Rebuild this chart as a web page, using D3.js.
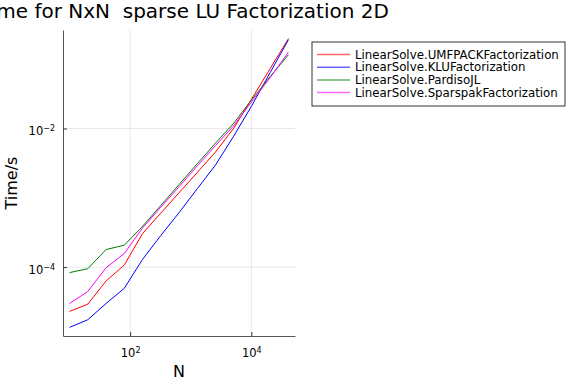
<!DOCTYPE html>
<html lang="en">
<head>
    <meta charset="UTF-8">
    <script src="https://d3js.org/d3.v7.min.js"></script>
    <style>
        body { margin: 0; background: #fff; font-family: "DejaVu Sans", sans-serif; }
        svg { display: block; }
    </style>
</head>
<body>
    <svg id="chart"></svg>
    <script>
        // problem sizes (x) and timings in seconds (y)
        const N = [10, 20, 40, 80, 160, 320, 640, 1280, 2560, 5120, 10240, 20480, 40960];
        const umfpack = [2.29e-5, 2.92e-5, 6.30e-5, 1.07e-4, 3.04e-4, 6.00e-4, 1.18e-3, 2.32e-3, 4.57e-3, 1.01e-2, 2.72e-2, 7.33e-2, 0.198];
        const klu = [1.35e-5, 1.74e-5, 2.98e-5, 4.94e-5, 1.29e-4, 2.85e-4, 6.09e-4, 1.35e-3, 2.97e-3, 7.76e-3, 2.16e-2, 6.43e-2, 0.191];
        const pardiso = [8.32e-5, 9.48e-5, 1.79e-4, 2.07e-4, 3.87e-4, 7.73e-4, 1.55e-3, 3.10e-3, 6.15e-3, 1.19e-2, 2.63e-2, 5.62e-2, 0.116];
        const sparspak = [2.98e-5, 4.44e-5, 9.80e-5, 1.57e-4, 3.67e-4, 7.31e-4, 1.44e-3, 2.88e-3, 5.66e-3, 1.10e-2, 2.47e-2, 5.44e-2, 0.126];

        const seriesNames = ["LinearSolve.UMFPACKFactorization", "LinearSolve.KLUFactorization",
                             "LinearSolve.PardisoJL", "LinearSolve.SparspakFactorization"];
        const seriesColors = ["#ff0000", "#0000ff", "#008000", "#ff00ff"];
        const xTicks = [1e2, 1e4];
        const yTicks = [1e-4, 1e-2];

        const allSeries = [umfpack, klu, pardiso, sparspak];

        const W = 576, H = 384;
        const plot = {left: 63, right: 295, top: 30, bottom: 336};

        const svg = d3.select("#chart").attr("width", W).attr("height", H);

        // log extent widened 3% each side
        function widen(vals) {
            const lo = Math.log10(d3.min(vals)), hi = Math.log10(d3.max(vals));
            const pad = (hi - lo) * 0.03;
            return [Math.pow(10, lo - pad), Math.pow(10, hi + pad)];
        }

        const x = d3.scaleLog().domain(widen(N)).range([plot.left, plot.right]);
        const y = d3.scaleLog().domain(widen(allSeries.flat())).range([plot.bottom, plot.top]);

        // grid
        svg.append("g").selectAll("line").data(xTicks).enter().append("line")
            .attr("x1", d => x(d)).attr("x2", d => x(d))
            .attr("y1", plot.top).attr("y2", plot.bottom)
            .attr("stroke", "#e8e8e8").attr("stroke-width", 1);
        svg.append("g").selectAll("line").data(yTicks).enter().append("line")
            .attr("x1", plot.left).attr("x2", plot.right)
            .attr("y1", d => y(d)).attr("y2", d => y(d))
            .attr("stroke", "#e8e8e8").attr("stroke-width", 1);

        function sciLabel(sel) {
            sel.each(function (d) {
                const e = Math.round(Math.log10(d));
                const t = d3.select(this).text("");
                t.append("tspan").text("10");
                t.append("tspan").attr("dy", "-0.5em").attr("font-size", "8px")
                    .text(String(e).replace("-", "\u2212"));
            });
        }

        const xAxis = svg.append("g")
            .attr("transform", `translate(0,${plot.bottom})`)
            .call(d3.axisBottom(x).tickValues(xTicks).tickSizeInner(-4).tickSizeOuter(0).tickPadding(8));
        xAxis.selectAll(".tick text").attr("y", 20.5).attr("dy", 0)
            .attr("font-size", "11.5px").attr("font-family", "DejaVu Sans").attr("fill", "#000")
            .call(sciLabel);

        const yAxis = svg.append("g")
            .attr("transform", `translate(${plot.left},0)`)
            .call(d3.axisLeft(y).tickValues(yTicks).tickSizeInner(-4).tickSizeOuter(0).tickPadding(8));
        yAxis.selectAll(".tick text").attr("dy", "0.52em")
            .attr("font-size", "11.5px").attr("font-family", "DejaVu Sans").attr("fill", "#000")
            .call(sciLabel);

        svg.selectAll(".domain").attr("stroke", "#555");
        svg.selectAll(".tick line").attr("stroke", "#333");

        // series lines
        const line = d3.line().x((d, i) => x(N[i])).y(d => y(d));
        svg.append("g").selectAll("path").data(allSeries).enter().append("path")
            .attr("d", line)
            .attr("fill", "none")
            .attr("stroke", (d, i) => seriesColors[i])
            .attr("stroke-width", 1);

        // title and axis labels
        svg.append("text")
            .attr("x", 184).attr("y", 18)
            .attr("text-anchor", "middle")
            .attr("font-size", "20px")
            .style("white-space", "pre")
            .text("Time for NxN  sparse LU Factorization 2D");

        svg.append("text")
            .attr("x", (plot.left + plot.right) / 2).attr("y", 377)
            .attr("text-anchor", "middle")
            .attr("font-size", "16px")
            .text("N");

        svg.append("text")
            .attr("transform", `translate(17,${(plot.top + plot.bottom) / 2}) rotate(-90)`)
            .attr("text-anchor", "middle")
            .attr("font-size", "16px")
            .text("Time/s");

        // legend
        const legend = svg.append("g").attr("transform", "translate(312,42)");
        legend.append("rect")
            .attr("width", 253).attr("height", 64)
            .attr("fill", "#fff").attr("stroke", "#333").attr("stroke-width", 1);
        const rows = legend.selectAll(".row").data(seriesNames).enter().append("g")
            .attr("class", "row")
            .attr("transform", (d, i) => `translate(0,${12.5 + i * 12.7})`);
        rows.append("line")
            .attr("x1", 5).attr("x2", 38).attr("y1", 0).attr("y2", 0)
            .attr("stroke", (d, i) => seriesColors[i])
            .attr("stroke-opacity", 0.6)
            .attr("stroke-width", 1.5);
        rows.append("text")
            .attr("x", 43).attr("dy", "0.35em")
            .attr("font-size", "11.8px")
            .text(d => d);
    </script>
</body>
</html>
